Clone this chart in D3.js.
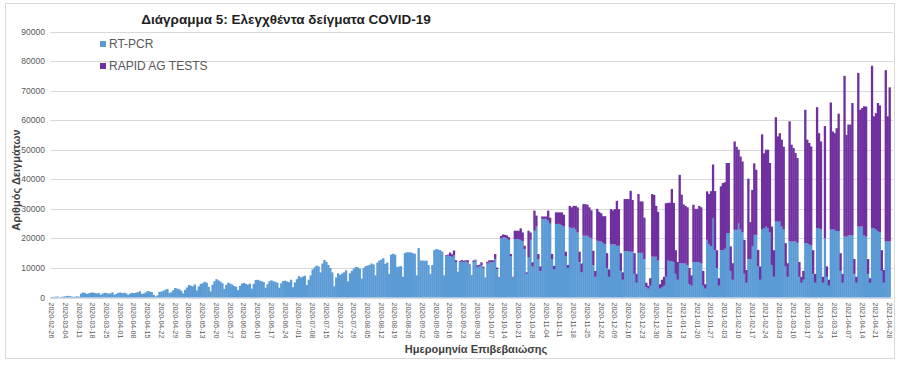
<!DOCTYPE html>
<html><head><meta charset="utf-8">
<script src="https://cdn.jsdelivr.net/npm/d3@7"></script>
<style>body{margin:0;background:#fff}svg{display:block}text{font-family:"Liberation Sans",Arial,sans-serif}</style>
</head><body><svg id="c" width="900" height="369"></svg>
<script>
const chartTitle = "Διάγραμμα 5: Ελεγχθέντα  δείγματα COVID-19";
const yTitle = "Αριθμός Δειγμάτων";
const xTitle = "Ημερομηνία Επιβεβαιώσης";
const seriesNames = ["RT-PCR", "RAPID AG TESTS"];
const startDate = "2020-02-26";
const yTicks = [0, 10000, 20000, 30000, 40000, 50000, 60000, 70000, 80000, 90000];
const tickLabels = [
 "2020-02-26","2020-03-04","2020-03-11","2020-03-18","2020-03-25","2020-04-01","2020-04-08","2020-04-15",
 "2020-04-22","2020-04-29","2020-05-06","2020-05-13","2020-05-20","2020-05-27","2020-06-03","2020-06-10",
 "2020-06-17","2020-06-24","2020-07-01","2020-07-08","2020-07-15","2020-07-22","2020-07-29","2020-08-05",
 "2020-08-12","2020-08-19","2020-08-26","2020-09-02","2020-09-09","2020-09-16","2020-09-23","2020-09-30",
 "2020-10-07","2020-10-14","2020-10-21","2020-10-28","2020-11-04","2020-11-11","2020-11-18","2020-11-25",
 "2020-12-02","2020-12-09","2020-12-16","2020-12-23","2020-12-30","2021-01-06","2021-01-13","2021-01-20",
 "2021-01-27","2021-02-03","2021-02-10","2021-02-17","2021-02-24","2021-03-03","2021-03-10","2021-03-17",
 "2021-03-24","2021-03-31","2021-04-07","2021-04-14","2021-04-21","2021-04-28"];

// RT-PCR daily samples (one line per week, Wed..Tue)
const pcr = [
 150,200,250,300,100,200,300,
 400,550,450,350,200,300,350,
 300,1300,1700,1500,1200,1400,1600,
 1700,1500,1400,1500,900,1300,1600,
 1500,1300,1400,1700,900,1200,1600,
 1700,1500,1600,1400,900,1300,1600,
 1500,1600,1800,2100,1200,1400,1700,
 2200,2000,1800,900,400,700,1900,
 2000,2300,2600,2900,1500,1800,2500,
 3200,3000,2800,2300,1400,2600,3400,
 4200,4000,3800,4400,2400,3800,4600,
 4800,5300,5000,3600,2100,4300,5500,
 6200,5800,5400,4800,2900,4300,5000,
 4700,4400,3900,3600,2500,3900,4700,
 4900,4600,4300,4700,3000,4600,5900,
 6000,5700,5500,5200,3300,4500,5500,
 5800,5500,5300,5000,3300,4800,5600,
 5700,5400,5200,6000,3500,5100,6200,
 7200,6800,7100,7400,4200,6000,7500,
 9500,10200,10800,10500,8500,11500,12700,
 12000,11000,10000,8500,3800,6800,8200,
 7600,8100,8500,9200,5500,8200,9000,
 9800,10300,10200,9800,6400,10000,10600,
 10800,11000,11500,11200,7500,11800,12500,
 12800,13300,11400,11800,8000,14500,14800,
 14500,10300,10500,10600,7000,15000,15300,
 15300,15300,15000,14800,7500,16700,12500,
 12500,12400,12500,11000,8000,11000,16000,
 16400,16200,16000,15500,7500,14000,14200,
 14000,13800,14200,12000,8500,12000,12200,
 12000,12300,11800,11000,7500,12000,12500,
 10200,10500,11000,10000,6800,11500,11900,
 11900,12000,13000,9600,6600,20000,20400,
 20300,20000,19500,14000,6800,19800,19800,
 19800,19500,19000,16400,8000,13500,19500,
 10500,22600,24000,13000,9000,26600,26600,
 26600,26000,25000,13000,9500,24900,24900,
 24900,24500,24000,14000,10000,23700,23500,
 23700,23000,22000,12000,8500,20900,20900,
 20900,20500,20000,11000,7000,19200,19000,
 19000,18500,18000,10000,7000,18000,18000,
 18000,17500,17500,9000,6000,15700,15700,
 15700,15500,15500,8000,5000,15100,15100,
 15100,13000,3500,3000,4000,13800,13800,
 13800,12500,3000,3500,4000,7000,12500,
 12300,12300,12000,8000,6000,11600,11600,
 11500,11500,11000,4500,4000,12000,12000,
 12000,12000,11500,4000,3000,19500,18000,
 17300,26900,16000,10000,4000,16000,16000,
 16500,21800,21800,9000,6000,22900,22900,
 25000,23000,22000,8000,5000,13000,13000,
 17300,21200,21200,10500,6000,23000,23500,
 24000,23500,22000,11000,7000,25700,25700,
 25700,24000,23000,10500,7000,19000,19000,
 19000,19000,18500,7000,5000,6000,18400,
 18400,18000,17600,8000,5000,23500,23500,
 23000,5000,20000,7000,4000,23000,23000,
 22900,22500,22500,9000,5000,20600,20600,
 21000,21000,21000,8000,5000,24000,24000,
 24000,21000,20600,8000,5000,23500,23500,
 23000,22500,22000,9000,5000,19000,19000,
 19000];

// Rapid antigen tests daily (one line per week, Wed..Tue)
const rapid = [
 0,0,0,0,0,0,0, 0,0,0,0,0,0,0, 0,0,0,0,0,0,0, 0,0,0,0,0,0,0,
 0,0,0,0,0,0,0, 0,0,0,0,0,0,0, 0,0,0,0,0,0,0, 0,0,0,0,0,0,0,
 0,0,0,0,0,0,0, 0,0,0,0,0,0,0, 0,0,0,0,0,0,0, 0,0,0,0,0,0,0,
 0,0,0,0,0,0,0, 0,0,0,0,0,0,0, 0,0,0,0,0,0,0, 0,0,0,0,0,0,0,
 0,0,0,0,0,0,0, 0,0,0,0,0,0,0, 0,0,0,0,0,0,0, 0,0,0,0,0,0,0,
 0,0,0,0,0,0,0, 0,0,0,0,0,0,0, 0,0,0,0,0,0,0, 0,0,0,0,0,0,0,
 0,0,0,0,0,0,0, 0,0,0,0,0,0,0, 0,0,0,0,0,0,0, 0,0,0,0,0,0,0,
 0,0,0,0,0,300,300,
 1200,800,1700,600,200,300,500,
 400,300,800,200,100,500,300,
 700,600,900,400,0,600,700,
 700,600,1700,500,200,800,900,
 900,1000,900,700,200,2800,2800,
 2800,3900,3000,1100,500,9100,2500,
 1400,6800,3700,1700,1500,800,800,
 800,3400,2000,1700,1200,3900,3900,
 3900,4300,4000,1500,1000,7300,7000,
 7300,8000,8500,3500,3000,10700,10700,
 10500,10000,9500,4800,2000,10800,10000,
 9500,9000,9500,5000,2500,11900,11500,
 11900,15200,12400,6000,2500,17600,17600,
 17600,20600,17500,7000,3000,19900,17400,
 17400,14000,1500,1000,2500,21200,20900,
 17200,16500,1500,2500,3000,24900,19500,
 19800,24400,20000,8000,6000,29900,23200,
 20000,19500,19500,5500,3500,19400,18000,
 18000,19000,19000,5000,1500,16400,17000,
 18700,18100,20000,6000,2500,21600,22700,
 22500,23700,23700,8300,5600,29900,28100,
 25000,24700,24000,11500,4300,27200,12500,
 19100,24200,22000,5600,4500,32200,25300,
 26000,26500,23500,13000,9000,35300,28800,
 29900,29400,28000,7900,4600,40600,32700,
 31600,29900,28700,5000,2000,3000,45100,
 35000,34300,33500,8000,3000,40900,32100,
 29800,2000,38000,3500,2000,43000,33200,
 32700,34800,39700,6000,3000,54400,34400,
 37500,37500,44800,5000,2000,52000,39500,
 40100,43700,44000,5000,1500,54900,37800,
 39400,43300,43000,7000,4300,57900,42300,
 52100];

const colors = ["#5b9bd5", "#7030a0"];

const parse = d3.utcParse("%Y-%m-%d"), fmt = d3.utcFormat("%Y-%m-%d");
const t0 = parse(startDate);
const dates = d3.utcDay.range(t0, d3.utcDay.offset(t0, pcr.length)).map(fmt);
const data = dates.map((d, i) => ({date: d, pcr: pcr[i], rapid: rapid[i] || 0}));
const layers = d3.stack().keys(["pcr", "rapid"])(data);

const svg = d3.select("#c");
const x = d3.scaleBand().domain(dates).range([50.5, 890.5]).padding(0);
const y = d3.scaleLinear().domain([0, 90000]).range([297.5, 31.5]);

// outer frame
svg.append("rect").attr("x", 5.5).attr("y", 3.5).attr("width", 889).attr("height", 355)
  .attr("fill", "none").attr("stroke", "#d9d9d9");

// gridlines
svg.append("g").selectAll("line").data(yTicks).join("line")
  .attr("x1", 50).attr("x2", 893)
  .attr("y1", d => Math.round(y(d)) + 0.5).attr("y2", d => Math.round(y(d)) + 0.5)
  .attr("stroke", "#d9d9d9").attr("stroke-width", 1);

// y tick labels
svg.append("g").selectAll("text").data(yTicks).join("text")
  .attr("x", 45).attr("y", d => y(d) + 3)
  .attr("text-anchor", "end").attr("font-size", "8.5px").attr("fill", "#595959")
  .text(d => d);

// bars
svg.append("g").selectAll("g").data(layers).join("g")
  .attr("fill", (d, i) => colors[i])
  .selectAll("rect").data(d => d).join("rect")
  .attr("x", d => x(d.data.date))
  .attr("width", x.bandwidth() + 0.35)
  .attr("y", d => y(d[1]))
  .attr("height", d => Math.max(0, y(d[0]) - y(d[1])));

// x axis labels
const xAxis = d3.axisBottom(x).tickValues(tickLabels).tickSize(0).tickPadding(0);
const gx = svg.append("g").attr("transform", "translate(0,297.5)").call(xAxis);
gx.select(".domain").remove();
gx.selectAll("text")
  .attr("transform", "rotate(90)")
  .attr("x", 5).attr("y", 0).attr("dy", "0.35em")
  .attr("text-anchor", "start")
  .attr("font-size", "7px").attr("fill", "#595959")
  .attr("font-family", "Liberation Sans, Arial, sans-serif");

// title
svg.append("text").attr("x", 286).attr("y", 24).attr("text-anchor", "middle")
  .attr("font-size", "13.5px").attr("font-weight", "bold").attr("fill", "#1f1f1f")
  .text(chartTitle);

// axis titles
svg.append("text").attr("transform", "translate(20,180) rotate(-90)")
  .attr("text-anchor", "middle").attr("font-size", "11px").attr("font-weight", "bold")
  .attr("fill", "#404040").text(yTitle);
svg.append("text").attr("x", 476).attr("y", 353).attr("text-anchor", "middle")
  .attr("font-size", "11px").attr("font-weight", "bold").attr("fill", "#404040").text(xTitle);

// legend
const lg = svg.append("g").selectAll("g").data(seriesNames).join("g")
  .attr("transform", (d, i) => `translate(100,${41 + i * 22})`);
lg.append("rect").attr("width", 6).attr("height", 6).attr("fill", (d, i) => colors[i]);
lg.append("text").attr("x", 9).attr("y", 7).attr("font-size", "12px").attr("fill", "#595959").text(d => d);
</script></body></html>
